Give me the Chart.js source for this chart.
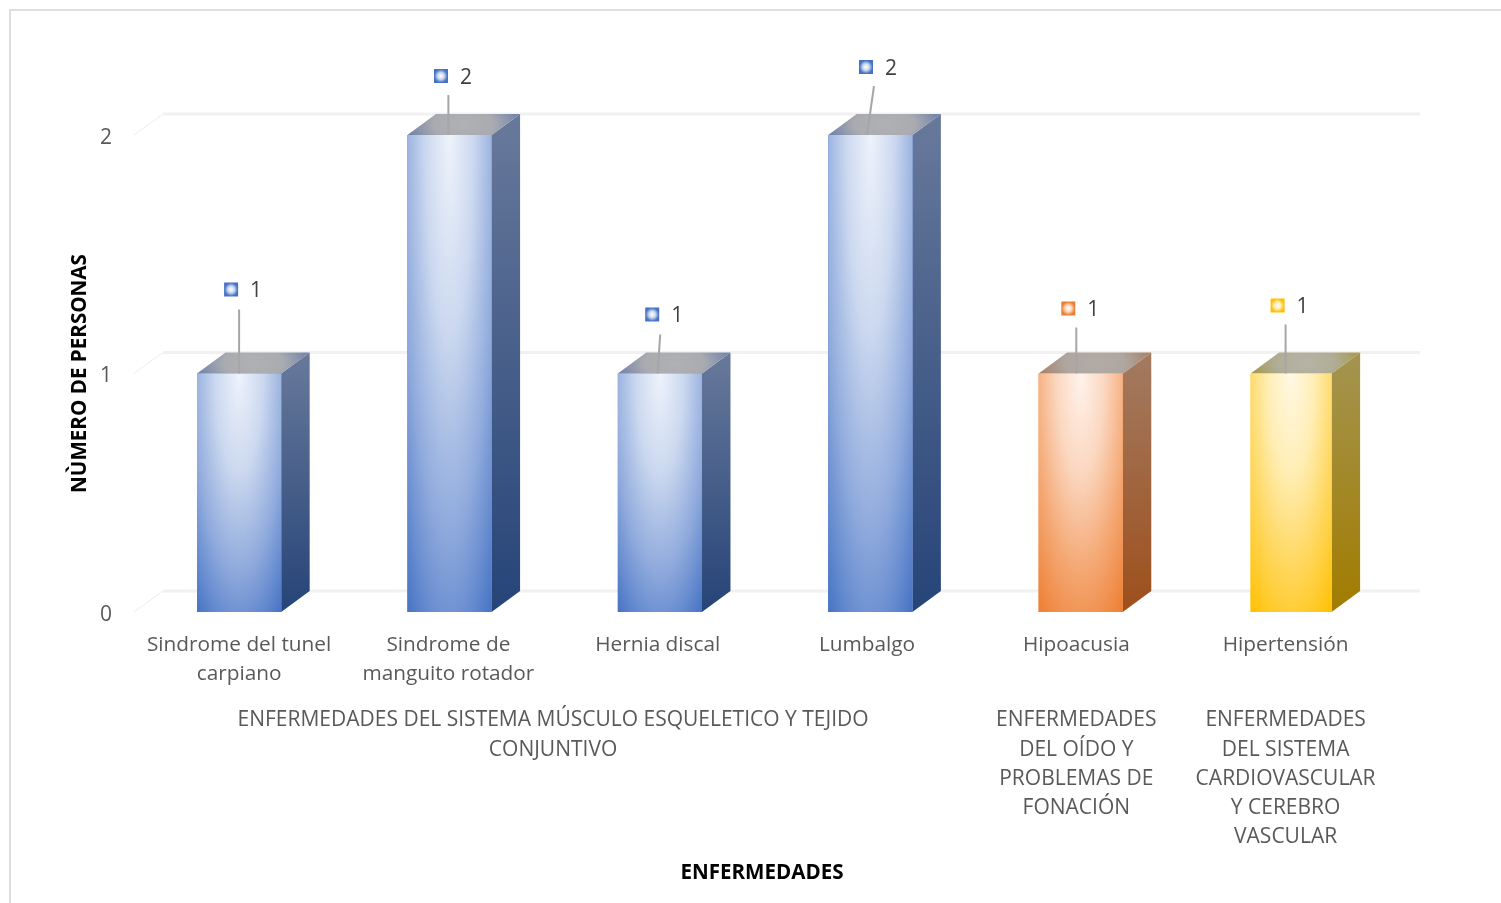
<!DOCTYPE html>
<html>
<head>
<meta charset="utf-8">
<script src="https://cdn.jsdelivr.net/npm/chart.js@4"></script>
<style>
  html, body { margin: 0; padding: 0; background: #fff; }
  #wrap { width: 1501px; height: 903px; position: relative; overflow: hidden; }
  canvas { display: block; }
</style>
</head>
<body>
<div id="wrap"><canvas id="grafico" width="1501" height="903"></canvas></div>
<script>
const categorias = [
    ['Sindrome del tunel', 'carpiano'],
    ['Sindrome de', 'manguito rotador'],
    ['Hernia discal'],
    ['Lumbalgo'],
    ['Hipoacusia'],
    ['Hipertensión']
];
const valores = [1, 2, 1, 2, 1, 1];
const tickLabels = [0, 1, 2];

const grupos = [
    ['ENFERMEDADES DEL SISTEMA MÚSCULO ESQUELETICO Y TEJIDO', 'CONJUNTIVO'],
    ['ENFERMEDADES', 'DEL OÍDO Y', 'PROBLEMAS DE', 'FONACIÓN'],
    ['ENFERMEDADES', 'DEL SISTEMA', 'CARDIOVASCULAR', 'Y CEREBRO', 'VASCULAR']
];
const gruposDesde = [0, 4, 5];
const gruposHasta = [3, 4, 5];

const tituloX = 'ENFERMEDADES';
const tituloY = 'NÙMERO DE PERSONAS';

// colores por barra
const colorBase = ['#4472c4', '#4472c4', '#4472c4', '#4472c4', '#ed7d31', '#ffc000'];
const azul = ['#eef3fb', '#cbd8ef', '#8ea9dc', '#4472c4'];
const naranja = ['#fff3ec', '#fbd7c0', '#f4a772', '#ed7d31'];
const amarillo = ['#fff9e4', '#ffeeb5', '#ffd65a', '#ffc000'];
const colorFrente = [azul, azul, azul, azul, naranja, amarillo];
const azulLado = ['#68799b', '#264478'];
const naranjaLado = ['#a27b62', '#9e4f1c'];
const amarilloLado = ['#a39450', '#a27c00'];
const colorLado = [azulLado, azulLado, azulLado, azulLado, naranjaLado, amarilloLado];
const azulTecho = ['#b0b1b3', '#a9abb0', '#6b7ea8'];
const naranjaTecho = ['#b3aca6', '#aea69f', '#a57d62'];
const amarilloTecho = ['#b6b4a6', '#b0ad97', '#a69848'];
const colorTecho = [azulTecho, azulTecho, azulTecho, azulTecho, naranjaTecho, amarilloTecho];

// desplazamiento de las etiquetas respecto a lo alto de la barra
const marcaDx = [-8, -7.5, -5.5, -1, -8, -8];
const marcaDy = [-84, -59, -59, -68, -65, -68];
const lineaDx = [0, 0, 2.5, 7, 0, 0];
const lineaDy = [-64, -40, -39, -49, -46, -49];

const fondoX = 28.5;
const fondoY = -21;
const corrimiento = 1.1; // los textos van un poco mas juntos que las barras
const anchoUltima = 81;
const fuente = '"Open Sans", sans-serif';

function radial(ctx, cx, cy, rx, ry, stops) {
    // gradiente eliptico, hay que llamar con el clip ya puesto
    ctx.translate(cx, cy);
    ctx.scale(rx, ry);
    const g = ctx.createRadialGradient(0, 0, 0, 0, 0, 1);
    stops.forEach((c, i) => g.addColorStop(i / (stops.length - 1), c));
    ctx.fillStyle = g;
    ctx.fillRect(-3, -3, 6, 6);
}

const marco = {
    id: 'marco',
    beforeDraw(chart) {
        const ctx = chart.ctx;
        ctx.save();
        ctx.fillStyle = '#dedede';
        ctx.fillRect(9, 9, 1492, 2);
        ctx.fillRect(9, 9, 2, 894);
        ctx.restore();
    }
};

const pared = {
    id: 'pared',
    beforeDatasetsDraw(chart) {
        const ctx = chart.ctx;
        const y = chart.scales.y;
        const x0 = chart.chartArea.left;
        ctx.save();
        tickLabels.forEach(v => {
            const py = y.getPixelForValue(v);
            ctx.strokeStyle = '#e4e4e4';
            ctx.lineWidth = 1;
            ctx.setLineDash([2, 1]);
            ctx.beginPath();
            ctx.moveTo(x0, py);
            ctx.lineTo(x0 + 29, py + fondoY);
            ctx.stroke();
            ctx.setLineDash([]);
            ctx.strokeStyle = '#f1f1f1';
            ctx.lineWidth = 3;
            ctx.beginPath();
            ctx.moveTo(x0 + 29, py + fondoY);
            ctx.lineTo(1420, py + fondoY);
            ctx.stroke();
        });
        ctx.restore();
    }
};

const caras = {
    id: 'caras',
    afterDatasetsUpdate(chart) {
        const datos = chart.getDatasetMeta(0).data;
        datos[datos.length - 1].width = anchoUltima;
    },
    beforeDatasetsDraw(chart) {
        const ctx = chart.ctx;
        chart.getDatasetMeta(0).data.forEach((bar, i) => {
            const izq = bar.x - bar.width / 2;
            const der = bar.x + bar.width / 2;
            const arriba = bar.y;
            const abajo = bar.base;

            // lado derecho
            const g = ctx.createLinearGradient(0, arriba + fondoY, 0, abajo);
            g.addColorStop(0, colorLado[i][0]);
            g.addColorStop(1, colorLado[i][1]);
            ctx.beginPath();
            ctx.moveTo(der, arriba);
            ctx.lineTo(der + fondoX, arriba + fondoY);
            ctx.lineTo(der + fondoX, abajo + fondoY);
            ctx.lineTo(der, abajo);
            ctx.closePath();
            ctx.fillStyle = g;
            ctx.fill();

            // techo
            ctx.save();
            ctx.beginPath();
            ctx.moveTo(izq, arriba);
            ctx.lineTo(izq + fondoX, arriba + fondoY);
            ctx.lineTo(der + fondoX, arriba + fondoY);
            ctx.lineTo(der, arriba);
            ctx.closePath();
            ctx.clip();
            radial(ctx, bar.x + fondoX / 2, arriba + fondoY / 2, bar.width * 0.72, -fondoY * 1.5, colorTecho[i]);
            ctx.restore();
        });
    },
    afterDatasetsDraw(chart) {
        const ctx = chart.ctx;
        chart.getDatasetMeta(0).data.forEach((bar, i) => {
            const izq = bar.x - bar.width / 2;
            const alto = bar.base - bar.y;
            ctx.save();
            ctx.beginPath();
            ctx.rect(izq, bar.y, bar.width, alto);
            ctx.clip();
            radial(ctx, bar.x, bar.y, bar.width * 0.85, alto * 1.25, colorFrente[i]);
            ctx.restore();
        });
    }
};

const etiquetas = {
    id: 'etiquetas',
    afterDraw(chart) {
        const ctx = chart.ctx;
        const x = chart.scales.x;
        const centro = i => x.getPixelForValue(i) - i * corrimiento;

        // lineas guia y marcas
        chart.getDatasetMeta(0).data.forEach((bar, i) => {
            const px = centro(i);
            ctx.save();
            ctx.strokeStyle = '#a6a6a6';
            ctx.lineWidth = 2;
            ctx.beginPath();
            ctx.moveTo(px + lineaDx[i], bar.y + lineaDy[i]);
            ctx.lineTo(px, bar.y);
            ctx.stroke();
            ctx.restore();

            const mx = px + marcaDx[i];
            const my = bar.y + marcaDy[i];
            ctx.save();
            ctx.beginPath();
            ctx.rect(mx - 7, my - 7, 14, 14);
            ctx.clip();
            radial(ctx, mx, my, 9.9, 9.9, ['#ffffff', colorFrente[i][1], colorBase[i], colorBase[i]]);
            ctx.restore();

            ctx.fillStyle = '#404040';
            ctx.font = '21px ' + fuente;
            ctx.textAlign = 'left';
            ctx.textBaseline = 'middle';
            ctx.fillText(String(valores[i]), mx + 19, my + 2);
        });

        ctx.fillStyle = '#595959';
        ctx.textAlign = 'center';
        ctx.textBaseline = 'middle';

        // categorias del eje x
        ctx.font = '20.8px ' + fuente;
        categorias.forEach((lineas, i) => {
            lineas.forEach((t, j) => ctx.fillText(t, centro(i), 645 + j * 29));
        });

        // nivel de grupo del eje x
        ctx.font = '21px ' + fuente;
        grupos.forEach((lineas, i) => {
            const cx = (centro(gruposDesde[i]) + centro(gruposHasta[i])) / 2;
            lineas.forEach((t, j) => ctx.fillText(t, cx, 720.5 + j * 29.1));
        });

        // titulo del eje x
        ctx.fillStyle = '#000000';
        ctx.font = 'bold 20.6px ' + fuente;
        ctx.fillText(tituloX, 762, 873);
    }
};

new Chart(document.getElementById('grafico'), {
    type: 'bar',
    data: {
        labels: categorias,
        datasets: [{
            data: valores,
            backgroundColor: colorBase,
            borderWidth: 0,
            barPercentage: 0.4,
            categoryPercentage: 1
        }]
    },
    options: {
        responsive: false,
        animation: false,
        layout: { padding: { left: 68, right: 104.7, top: 135, bottom: 18 } },
        plugins: { legend: { display: false }, tooltip: { enabled: false } },
        scales: {
            x: {
                afterFit: s => { s.height = 273; },
                grid: { display: false },
                border: { display: false },
                ticks: { display: false }
            },
            y: {
                min: 0,
                max: 2,
                afterFit: s => { s.width = 65.9; },
                afterBuildTicks: s => { s.ticks = tickLabels.map(v => ({ value: v })); },
                grid: { display: false },
                border: { display: false },
                ticks: {
                    color: '#595959',
                    font: { family: fuente, size: 21 },
                    padding: 14,
                    labelOffset: 3
                },
                title: {
                    display: true,
                    text: tituloY,
                    color: '#000000',
                    font: { family: fuente, size: 20.6, weight: 'bold' },
                    padding: 0
                }
            }
        }
    },
    plugins: [marco, pared, caras, etiquetas]
});
</script>
</body>
</html>
